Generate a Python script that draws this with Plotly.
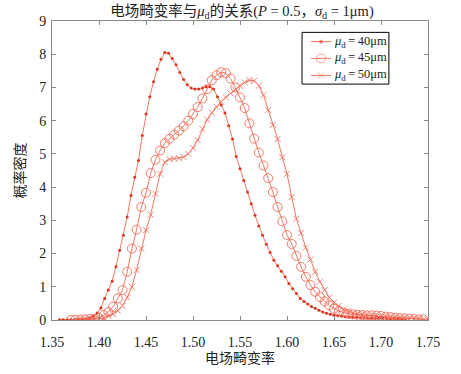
import numpy as np
import plotly.graph_objects as go

# ---- data ----
x40 = np.round(np.arange(93) * 0.004 + 1.358, 3).tolist()
y40 = [0.01, 0.01, 0.01, 0.01, 0.01, 0.02, 0.02, 0.03, 0.06, 0.11,
       0.21, 0.36, 0.65, 0.9, 1.17, 1.6, 2.1, 2.55, 3.1, 3.75,
       4.3, 4.8, 5.55, 6.2, 6.72, 7.17, 7.55, 7.85, 8.05, 8.03,
       7.87, 7.68, 7.45, 7.24, 7.08, 6.98, 6.95, 6.95, 6.98, 7.02,
       7.02, 6.95, 6.72, 6.47, 6.23, 5.85, 5.45, 4.92, 4.55, 4.2,
       3.85, 3.5, 3.15, 2.83, 2.55, 2.28, 2.03, 1.8, 1.63, 1.47,
       1.3, 1.1, 0.94, 0.8, 0.65, 0.56, 0.48, 0.41, 0.35, 0.29,
       0.24, 0.2, 0.17, 0.14, 0.13, 0.12, 0.1, 0.09, 0.08, 0.08,
       0.07, 0.07, 0.06, 0.06, 0.05, 0.05, 0.05, 0.04, 0.03, 0.03,
       0.02, 0.02, 0.01]

x45 = np.round(np.arange(76) * 0.005 + 1.370, 3).tolist()
y45 = [0.0, 0.01, 0.01, 0.02, 0.03, 0.04, 0.06, 0.15, 0.24, 0.4,
       0.65, 0.9, 1.45, 2.15, 2.72, 3.4, 3.83, 4.42, 4.82, 5.1,
       5.32, 5.46, 5.58, 5.7, 5.83, 6.0, 6.2, 6.41, 6.67, 6.95,
       7.22, 7.37, 7.46, 7.43, 7.27, 7.0, 6.7, 6.38, 5.92, 5.46,
       5.04, 4.65, 4.27, 3.85, 3.4, 2.97, 2.56, 2.29, 1.93, 1.6,
       1.3, 1.05, 0.85, 0.69, 0.56, 0.44, 0.34, 0.27, 0.22, 0.19,
       0.17, 0.16, 0.15, 0.14, 0.14, 0.13, 0.12, 0.1, 0.09, 0.07,
       0.06, 0.05, 0.04, 0.03, 0.02, 0.02]

x50 = np.round(np.arange(75) * 0.005 + 1.380, 3).tolist()
y50 = [0.0, 0.01, 0.01, 0.02, 0.03, 0.07, 0.12, 0.18, 0.28, 0.43,
       0.68, 1.0, 1.5, 2.15, 2.7, 3.17, 3.8, 4.4, 4.75, 4.84,
       4.86, 4.87, 4.9, 5.0, 5.18, 5.42, 5.75, 6.03, 6.24, 6.42,
       6.57, 6.7, 6.82, 6.93, 7.05, 7.15, 7.22, 7.2, 7.05, 6.77,
       6.32, 5.87, 5.45, 4.9, 4.4, 3.7, 3.05, 2.62, 2.18, 1.82,
       1.45, 1.15, 0.9, 0.68, 0.53, 0.42, 0.32, 0.26, 0.21, 0.18,
       0.15, 0.13, 0.12, 0.11, 0.1, 0.09, 0.08, 0.06, 0.05, 0.04,
       0.03, 0.02, 0.02, 0.01, 0.01]

names = ["<i>μ</i><sub>d</sub>\u2009=\u200940μm",
         "<i>μ</i><sub>d</sub>\u2009=\u200945μm",
         "<i>μ</i><sub>d</sub>\u2009=\u200950μm"]
xticks = [1.35, 1.40, 1.45, 1.50, 1.55, 1.60, 1.65, 1.70, 1.75]
yticks = list(range(10))

FONT = "Liberation Serif, Times New Roman, Noto Sans CJK SC, serif"
line_col = "rgba(238,95,70,0.85)"

styles = [
    dict(symbol="circle", size=3, color="rgb(222,50,30)"),
    dict(symbol="circle-open", size=9, color="rgba(238,100,80,0.85)", line=dict(width=1)),
    dict(symbol="x-thin-open", size=6, color="rgba(238,110,90,0.85)",
         line=dict(width=1, color="rgba(238,110,90,0.85)")),
]

fig = go.Figure()
for xs, ys, nm, st in zip([x40, x45, x50], [y40, y45, y50], names, styles):
    fig.add_trace(go.Scatter(x=xs, y=ys, name=nm, mode="lines+markers",
                             line=dict(color=line_col, width=1), marker=st,
                             showlegend=False))

# ---- legend drawn in an overlay unit-square axis (MATLAB-style compact box) ----
leg_x0, leg_x1, leg_y0, leg_y1 = 0.665, 0.896, 0.789, 0.962
row_y = [0.931, 0.875, 0.818]
samp_x = [0.689, 0.7155, 0.742]
for ry, nm, st in zip(row_y, names, styles):
    mk = dict(st)
    mk["size"] = [0, st["size"], 0]
    fig.add_trace(go.Scatter(x=samp_x, y=[ry] * 3, mode="lines+markers",
                             xaxis="x2", yaxis="y2", hoverinfo="skip",
                             line=dict(color=line_col, width=1), marker=mk,
                             showlegend=False))
    fig.add_annotation(x=0.748, y=ry, xref="x2", yref="y2", text=nm, showarrow=False,
                       xanchor="left", yanchor="middle", borderpad=0,
                       font=dict(family=FONT, size=12.5, color="#222222"))
fig.add_shape(type="rect", xref="x2", yref="y2", x0=leg_x0, x1=leg_x1, y0=leg_y0, y1=leg_y1,
              line=dict(color="black", width=1), fillcolor="rgba(255,255,255,0)", layer="above")

axis_common = dict(showgrid=False, zeroline=False, showline=True, linecolor="#888888",
                   linewidth=1, mirror="ticks", ticks="inside", ticklen=4,
                   tickcolor="#888888", tickfont=dict(family=FONT, size=14, color="#222222"))

fig.update_layout(
    width=461, height=374,
    margin=dict(l=52, r=33, t=21, b=54),
    paper_bgcolor="white", plot_bgcolor="white",
    font=dict(family=FONT, size=14, color="#222222"),
    title=dict(text="电场畸变率与<i>μ</i><sub>d</sub>的关系(<i>P</i> = 0.5，<i>σ</i><sub>d</sub> = 1μm)",
               x=0.525, xanchor="center", y=0.972, yanchor="middle",
               font=dict(family=FONT, size=14.5, color="#222222")),
    xaxis=dict(range=[1.35, 1.75], tickvals=xticks, tickformat=".2f", ticklabelstandoff=9,
               title=dict(text="电场畸变率", font=dict(family=FONT, size=14), standoff=2),
               **axis_common),
    yaxis=dict(range=[0, 9], tickvals=yticks, ticklabelstandoff=2,
               title=dict(text="概率密度", font=dict(family=FONT, size=14), standoff=10),
               **axis_common),
    xaxis2=dict(overlaying="x", range=[0, 1], visible=False, fixedrange=True),
    yaxis2=dict(overlaying="y", range=[0, 1], visible=False, fixedrange=True),
    showlegend=False,
)

fig.write_html("out.html", config={"displayModeBar": False},
               post_script="document.body.style.margin='0';document.body.style.overflow='hidden';")
